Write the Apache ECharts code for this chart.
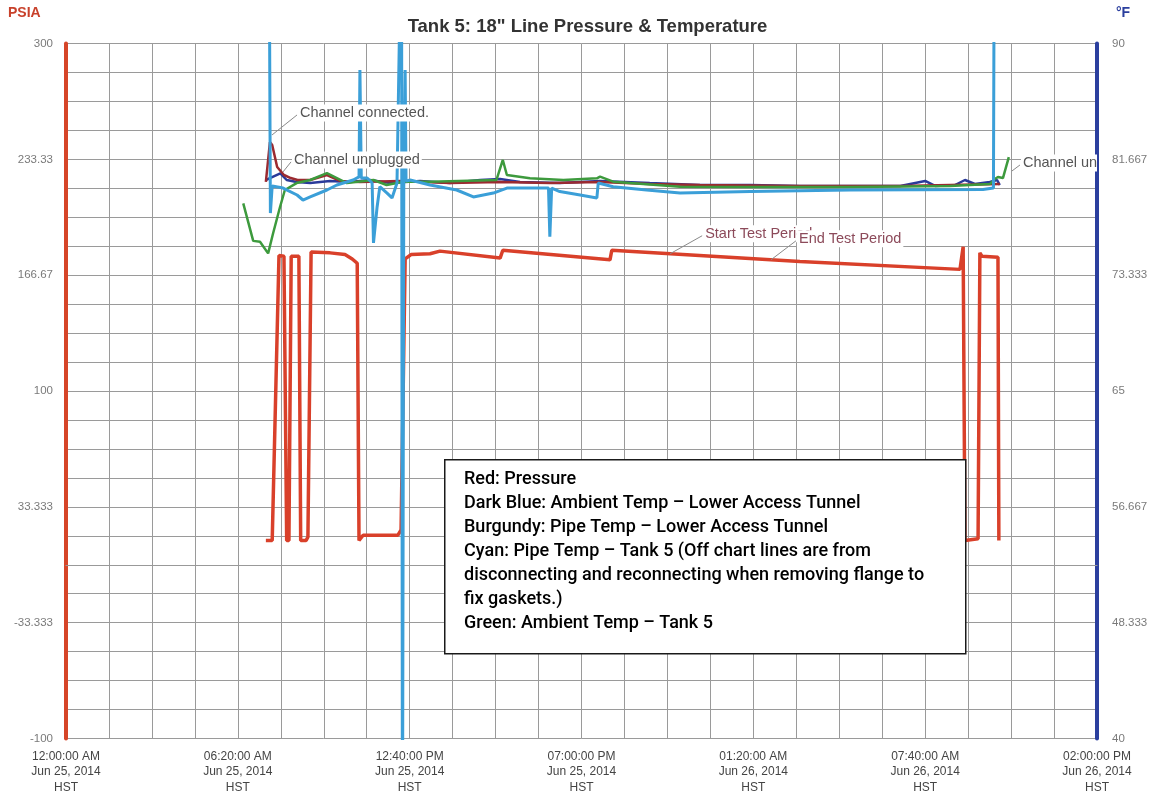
<!DOCTYPE html>
<html>
<head>
<meta charset="utf-8">
<script src="https://cdn.jsdelivr.net/npm/echarts@6/dist/echarts.min.js"></script>
<style>
  html, body { margin: 0; padding: 0; background: #fff; }
  #chart { width: 1175px; height: 802px; }
</style>
</head>
<body>
<div id="chart"></div>
<script>
// Time is in minutes after 12:00:00 AM Jun 25, 2014 HST (axis runs 38 h).
const xTickLabels = [
  '12:00:00 AM\nJun 25, 2014\nHST',
  '06:20:00 AM\nJun 25, 2014\nHST',
  '12:40:00 PM\nJun 25, 2014\nHST',
  '07:00:00 PM\nJun 25, 2014\nHST',
  '01:20:00 AM\nJun 26, 2014\nHST',
  '07:40:00 AM\nJun 26, 2014\nHST',
  '02:00:00 PM\nJun 26, 2014\nHST'
];
const pressureTickLabels = ['-100', '-33.333', '33.333', '100', '166.67', '233.33', '300'];
const tempTickLabels = ['40', '48.333', '56.667', '65', '73.333', '81.667', '90'];

// Red: line pressure (PSIA)
const pressureTime  = [442, 456, 471, 482, 488, 493, 498, 515, 519, 531, 535, 542, 584, 617, 633, 644, 648, 657, 734, 741, 750, 763, 805, 827, 960, 966, 1203, 1207, 1623, 1977, 1984, 1988, 1990, 2017, 2021, 2026, 2061, 2063];
const pressureValue = [14, 14, 178, 177.5, 14, 14, 177.5, 177.5, 14, 14, 16, 180, 179.5, 178.5, 176, 173.5, 14, 17, 17, 20, 176, 178.5, 179, 180.5, 176.5, 181, 175.5, 181, 174.5, 170, 183, 14, 14, 15, 179.5, 177.5, 177, 14];

// Dark blue: ambient temp, lower access tunnel (°F)
const tunnelAmbientTime = [442, 451, 474, 488, 510, 540, 584, 628, 672, 717, 783, 849, 916, 960, 1004, 1092, 1181, 1291, 1402, 1513, 1623, 1734, 1845, 1900, 1922, 1966, 1988, 2010, 2043, 2059, 2065];
const tunnelAmbientTemp = [80.18, 80.32, 80.66, 80.18, 80.04, 79.96, 80.11, 80.04, 80.18, 79.96, 80.11, 79.96, 80.18, 80.25, 80.04, 79.96, 80.11, 79.96, 79.82, 79.82, 79.75, 79.75, 79.75, 80.11, 79.75, 79.82, 80.18, 79.89, 80.04, 80.18, 79.82];

// Burgundy: pipe temp, lower access tunnel (°F)
const tunnelPipeTime = [442, 451, 456, 467, 482, 497, 512, 540, 577, 606, 650, 739, 849, 960, 1070, 1181, 1291, 1402, 1623, 1845, 1955, 2065];
const tunnelPipeTemp = [80.04, 82.91, 82.7, 81.12, 80.54, 80.32, 80.18, 80.18, 80.54, 80.11, 80.04, 80.11, 79.96, 80.04, 79.96, 80.04, 79.89, 79.82, 79.75, 79.75, 79.82, 79.89];

// Cyan: pipe temp, tank 5 (°F) - readings of 100 / 30 are the off-chart disconnect swings
const tankPipeTime = [449, 452, 456, 480, 511, 524, 540, 577, 599, 635, 648, 650, 653, 666, 677, 680, 688, 694, 710, 721, 732, 742, 744, 747, 750, 752, 761, 805, 864, 901, 945, 975, 1026, 1067, 1070, 1074, 1092, 1137, 1174, 1177, 1210, 1284, 1358, 1513, 1734, 2028, 2051, 2053];
const tankPipeTemp = [100, 77.8, 79.75, 79.6, 79.1, 78.74, 78.96, 79.46, 79.82, 80.18, 80.4, 88.1, 80.32, 80.32, 79.96, 75.65, 78.24, 79.7, 79.24, 78.89, 79.96, 100, 30, 80.0, 88.1, 80.1, 80.18, 79.82, 79.46, 78.96, 79.24, 79.6, 79.6, 79.6, 76.1, 79.6, 79.35, 79.1, 78.89, 79.96, 79.7, 79.46, 79.24, 79.35, 79.46, 79.5, 79.6, 100];

// Green: ambient temp, tank 5 (°F)
const tankAmbientTime = [392, 414, 429, 447, 458, 473, 484, 510, 540, 577, 621, 680, 709, 746, 805, 952, 966, 975, 1026, 1100, 1174, 1181, 1210, 1358, 1513, 1734, 1955, 2043, 2054, 2061, 2072, 2085];
const tankAmbientTemp = [78.5, 75.8, 75.74, 74.9, 76.35, 78.2, 79.46, 79.96, 80.18, 80.68, 79.96, 80.18, 79.82, 80.06, 80.06, 80.18, 81.62, 80.54, 80.3, 80.18, 80.3, 80.42, 80.06, 79.7, 79.68, 79.68, 79.75, 79.89, 80.25, 80.4, 80.32, 81.83];

// Callouts on the temperature traces
const tempNoteText  = ['Channel connected.', 'Channel unplugged', 'Channel unplugged'];
const tempNoteTime  = [455.6, 479.9, 2092];
const tempNoteValue = [83.42, 80.76, 80.83];
// Callouts on the pressure trace
const pressNoteText  = ['Start Test Period', 'End Test Period'];
const pressNoteTime  = [1336, 1559];
const pressNoteValue = [179, 175.5];

const legendLines = [
  ['r', 'Red: Pressure'],
  ['b', 'Dark Blue: Ambient Temp \u2013 Lower Access Tunnel'],
  ['g', 'Burgundy: Pipe Temp \u2013 Lower Access Tunnel'],
  ['c', 'Cyan: Pipe Temp \u2013 Tank 5 (Off chart lines are from'],
  ['c', 'disconnecting and reconnecting when removing flange to'],
  ['c', 'fix gaskets.)'],
  ['t', 'Green: Ambient Temp \u2013 Tank 5']
];

// ---------------------------------------------------------------------------
const zip = (xs, ys) => xs.map((x, i) => [x, ys[i]]);

const PRESS_MIN = -100, PRESS_MAX = 300, PRESS_STEP = (PRESS_MAX - PRESS_MIN) / 24;
const TEMP_MIN = 40, TEMP_MAX = 90, TEMP_STEP = (TEMP_MAX - TEMP_MIN) / 24;
const X_MIN = 0, X_MAX = 2280, X_STEP = 95;

function majorLabel(labels, min, step) {
  return function (v) {
    const i = Math.round((v - min) / step);
    return i % 4 === 0 ? (labels[i / 4] || '') : '';
  };
}

const baseFont = "'Liberation Sans', Arial, sans-serif";

// Text offsets (px) of each callout from the point it marks
const tempNoteOffsets = [[26, -22], [9, -12], [9, -8]];
const pressNoteOffsets = [[33, -20], [26, -21]];

function calloutRenderer(texts, offsets, color) {
  return function (params, api) {
    const p = api.coord([api.value(0), api.value(1)]);
    const o = offsets[params.dataIndex];
    const tx = p[0] + o[0], ty = p[1] + o[1];
    return {
      type: 'group',
      children: [
        { type: 'line', shape: { x1: p[0], y1: p[1], x2: tx - 1, y2: ty + 2 },
          style: { stroke: '#8a8a8a', lineWidth: 1 } },
        { type: 'text', x: tx, y: ty,
          style: { text: texts[params.dataIndex], fill: color, font: "14.5px 'Liberation Sans', Arial, sans-serif",
                   verticalAlign: 'middle', align: 'left', backgroundColor: '#fff', padding: [1, 2] } }
      ]
    };
  };
}

const richStyles = {
  r: { color: '#d9472b' },
  b: { color: '#27418f' },
  g: { color: '#9c2f22' },
  c: { color: '#3d97d3' },
  t: { color: '#4d8a3c' }
};
Object.keys(richStyles).forEach(k => Object.assign(richStyles[k], {
  fontFamily: 'Roboto, sans-serif', fontSize: 18, fontWeight: 500, lineHeight: 24.1
}));

const chart = echarts.init(document.getElementById('chart'), null, { renderer: 'canvas' });

chart.setOption({
  animation: false,
  backgroundColor: '#fff',
  grid: { left: 66, right: 78, top: 43.5, bottom: 63.5, containLabel: false },
  xAxis: {
    type: 'value', min: X_MIN, max: X_MAX, interval: X_STEP,
    axisLine: { show: true, lineStyle: { color: '#999', width: 1 } },
    axisTick: { show: false },
    splitLine: { show: true, lineStyle: { color: '#9a9a9a', width: 1 } },
    axisLabel: {
      formatter: majorLabel(xTickLabels, X_MIN, X_STEP),
      color: '#444', fontFamily: baseFont, fontSize: 12, lineHeight: 15.5, margin: 10,
      align: 'center', hideOverlap: false
    }
  },
  yAxis: [
    {
      type: 'value', position: 'left', min: PRESS_MIN, max: PRESS_MAX, interval: PRESS_STEP,
      axisLine: { show: true, lineStyle: { color: '#d64528', width: 4 } },
      axisTick: { show: false },
      splitLine: { show: true, lineStyle: { color: '#9a9a9a', width: 1 } },
      axisLabel: { formatter: majorLabel(pressureTickLabels, PRESS_MIN, PRESS_STEP),
                   color: '#7a7a7a', fontFamily: baseFont, fontSize: 11.5, margin: 13 }
    },
    {
      type: 'value', position: 'right', min: TEMP_MIN, max: TEMP_MAX, interval: TEMP_STEP,
      axisLine: { show: true, lineStyle: { color: '#2b3f9e', width: 4 } },
      axisTick: { show: false },
      splitLine: { show: false },
      axisLabel: { formatter: majorLabel(tempTickLabels, TEMP_MIN, TEMP_STEP),
                   color: '#7a7a7a', fontFamily: baseFont, fontSize: 11.5, margin: 15 }
    }
  ],
  title: {
    text: 'Tank 5: 18" Line Pressure & Temperature',
    left: 'center', top: 12,
    textStyle: { color: '#333', fontFamily: baseFont, fontSize: 18.5, fontWeight: 'bold' }
  },
  graphic: [
    { type: 'text', left: 8, top: 6, style: { text: 'PSIA', fill: '#c8412b', font: "bold 14px 'Liberation Sans', Arial" } },
    { type: 'text', left: 1116, top: 6, style: { text: '\u00b0F', fill: '#2b3f9e', font: "bold 14px 'Liberation Sans', Arial" } },
    { type: 'rect', left: 444, top: 459, z: 100,
      shape: { width: 521, height: 194 },
      style: { fill: '#fff', stroke: '#1a1a1a', lineWidth: 1.5 } },
    { type: 'text', left: 464, top: 470, z: 101,
      style: { text: legendLines.map(l => '{' + l[0] + '|' + l[1] + '}').join('\n'), rich: richStyles } }
  ],
  series: [
    { name: 'Pressure', type: 'line', xAxisIndex: 0, yAxisIndex: 0, showSymbol: false, z: 2,
      data: zip(pressureTime, pressureValue), lineStyle: { color: '#d9402a', width: 3.5 } },
    { name: 'Ambient Temp - Lower Access Tunnel', type: 'line', yAxisIndex: 1, showSymbol: false, z: 3,
      data: zip(tunnelAmbientTime, tunnelAmbientTemp), lineStyle: { color: '#2a3a9a', width: 2.5 } },
    { name: 'Pipe Temp - Lower Access Tunnel', type: 'line', yAxisIndex: 1, showSymbol: false, z: 3,
      data: zip(tunnelPipeTime, tunnelPipeTemp), lineStyle: { color: '#9b2a30', width: 2.5 } },
    { name: 'Ambient Temp - Tank 5', type: 'line', yAxisIndex: 1, showSymbol: false, z: 3,
      data: zip(tankAmbientTime, tankAmbientTemp), lineStyle: { color: '#3d9a3d', width: 2.5 } },
    { name: 'Pipe Temp - Tank 5', type: 'line', yAxisIndex: 1, showSymbol: false, z: 4,
      data: zip(tankPipeTime, tankPipeTemp), lineStyle: { color: '#3b9fd8', width: 3 } },
    { name: 'temp callouts', type: 'custom', yAxisIndex: 1, z: 6, clip: true,
      data: zip(tempNoteTime, tempNoteValue),
      renderItem: calloutRenderer(tempNoteText, tempNoteOffsets, '#555') },
    { name: 'pressure callouts', type: 'custom', yAxisIndex: 0, z: 6, clip: true,
      data: zip(pressNoteTime, pressNoteValue),
      renderItem: calloutRenderer(pressNoteText, pressNoteOffsets, '#8c4a5a') }
  ]
});
</script>
</body>
</html>
